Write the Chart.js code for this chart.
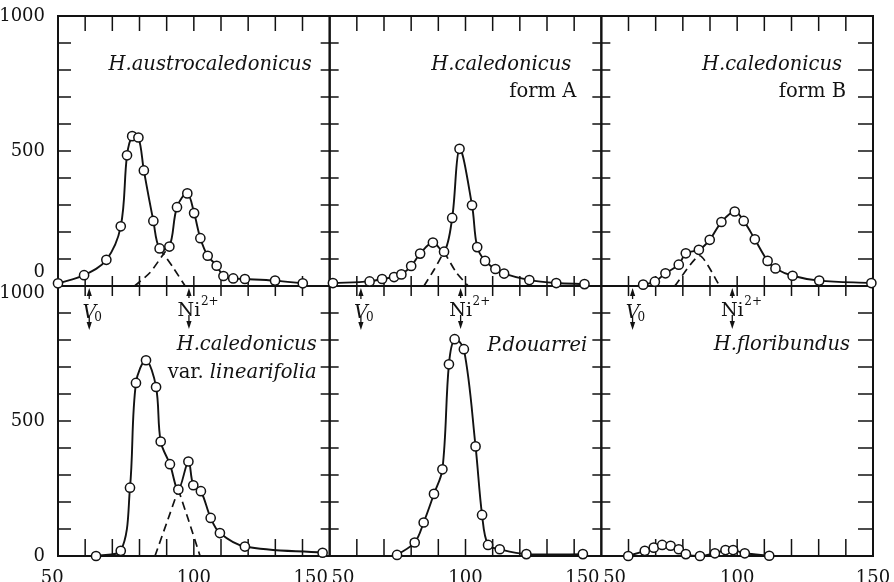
<!DOCTYPE html>
<html><head><meta charset="utf-8">
<script src="https://cdn.jsdelivr.net/npm/chart.js@4"></script>
<style>html,body{margin:0;padding:0;background:#fff}canvas{display:block}</style>
</head><body>
<canvas id="c" width="894" height="582"></canvas>
<script>
// ---------- data ----------
const xTickLabels = [50, 100, 150];
const yTickLabels = [0, 500, 1000];
const xMinorTicks = [60, 70, 80, 90, 100, 110, 120, 130, 140];
const yMinorTicks = [100, 200, 300, 400, 500, 600, 700, 800, 900];
const markerV0 = 61.5;
const markerNi = 98.2;

// H.austrocaledonicus
const austroX = [50, 59.6, 67.8, 73.1, 75.4, 77.3, 79.6, 81.6, 85.1, 87.4, 91, 93.8, 97.6, 100.1, 102.4, 105.1, 108.4, 110.9, 114.5, 118.8, 129.9, 140.1];
const austroY = [10, 40, 97, 221, 484, 555, 550, 428, 241, 139, 146, 292, 343, 270, 177, 112, 75, 37, 28, 26, 20, 10];
const austroDashAX = [87.4, 92.4, 96.8];
const austroDashAY = [139, 68, 0];
const austroDashBX = [78.2, 83.9, 88.8, 91];
const austroDashBY = [0, 50, 118, 146];

// H.caledonicus form A
const formAX = [51.2, 64.7, 69.3, 73.7, 76.4, 80, 83.3, 88, 92.1, 95.1, 97.8, 102.4, 104.3, 107.2, 111, 114.2, 123.5, 133.4, 143.8];
const formAY = [11, 17, 26, 33, 43, 74, 120, 161, 127, 252, 508, 299, 144, 93, 63, 46, 22, 11, 7];
const formADashAX = [84.7, 88.6, 92.1];
const formADashAY = [0, 63, 127];
const formADashBX = [92.1, 96.6, 101];
const formADashBY = [127, 50, 0];

// H.caledonicus form B
const formBX = [65.4, 69.7, 73.6, 78.5, 81.1, 85.9, 89.9, 94.2, 99.1, 102.4, 106.5, 111.2, 114.1, 120.4, 130.2, 149.4];
const formBY = [5, 16, 47, 79, 121, 134, 171, 237, 276, 241, 173, 93, 65, 38, 20, 11];
const formBDashX = [77, 86.2, 93.6];
const formBDashY = [0, 112, 0];

// H.caledonicus var. linearifolia
const linX = [64, 73.1, 76.5, 78.7, 82.4, 86.1, 87.8, 91.2, 94.3, 98, 99.8, 102.6, 106.2, 109.6, 118.8, 147.4];
const linY = [0, 19, 253, 641, 725, 626, 424, 340, 246, 350, 262, 240, 141, 85, 35, 12];
const linDashAX = [85.7, 90, 94.3];
const linDashAY = [0, 122, 246];
const linDashBX = [94.3, 98, 102.3];
const linDashBY = [246, 134, 0];

// P.douarrei
const douX = [74.8, 81.3, 84.6, 88.4, 91.5, 93.9, 96, 99.4, 103.7, 106.1, 108.3, 112.6, 122.4, 143.2];
const douY = [4, 50, 124, 230, 321, 710, 803, 766, 406, 152, 41, 25, 7, 7];

// H.floribundus
const floX = [59.9, 66, 69.3, 72.4, 75.5, 78.5, 81.1, 86.3, 91.8, 95.7, 98.5, 102.8, 111.8];
const floY = [0, 19, 31, 41, 38, 25, 7, 0, 10, 22, 22, 10, 1];

// ---------- panels ----------
const INK = '#121212';
const SERIF = '"DejaVu Serif", "Liberation Serif", serif';
const panels = [
  {xId: 'xa', yId: 'ya', col: 0, row: 0, title: [[['H.austrocaledonicus', true]]]},
  {xId: 'xb', yId: 'ya', col: 1, row: 0, title: [[['H.caledonicus', true]], [['form A', false]]]},
  {xId: 'xc', yId: 'ya', col: 2, row: 0, title: [[['H.caledonicus', true]], [['form B', false]]]},
  {xId: 'xa', yId: 'yb', col: 0, row: 1, title: [[['H.caledonicus', true]], [['var. ', false], ['linearifolia', true]]]},
  {xId: 'xb', yId: 'yb', col: 1, row: 1, title: [[['P.douarrei', true]]]},
  {xId: 'xc', yId: 'yb', col: 2, row: 1, title: [[['H.floribundus', true]]]}
];
// title layout: right inset per line, baseline offset per line
const titleLayout = [
  {r: [18], b: [54]},
  {r: [30, 25], b: [54, 81]},
  {r: [31, 27], b: [54, 81]},
  {r: [13, 13], b: [64, 92]},
  {r: [14], b: [65]},
  {r: [23], b: [64]}
];

function pts(xs, ys) { return xs.map((x, i) => ({x: x, y: ys[i]})); }
function solid(xs, ys, xId, yId) {
  return {data: pts(xs, ys), xAxisID: xId, yAxisID: yId,
    borderColor: INK, borderWidth: 1.9, tension: 0.35,
    pointRadius: 4.6, pointBackgroundColor: '#fff', pointBorderColor: INK, pointBorderWidth: 1.5,
    clip: false, order: 1};
}
function dashed(xs, ys, xId, yId) {
  return {data: pts(xs, ys), xAxisID: xId, yAxisID: yId,
    borderColor: INK, borderWidth: 1.7, borderDash: [8, 5], tension: 0.2,
    pointRadius: 0, clip: false, order: 2};
}

const datasets = [
  solid(austroX, austroY, 'xa', 'ya'),
  dashed(austroDashAX, austroDashAY, 'xa', 'ya'),
  dashed(austroDashBX, austroDashBY, 'xa', 'ya'),
  solid(formAX, formAY, 'xb', 'ya'),
  dashed(formADashAX, formADashAY, 'xb', 'ya'),
  dashed(formADashBX, formADashBY, 'xb', 'ya'),
  solid(formBX, formBY, 'xc', 'ya'),
  dashed(formBDashX, formBDashY, 'xc', 'ya'),
  solid(linX, linY, 'xa', 'yb'),
  dashed(linDashAX, linDashAY, 'xa', 'yb'),
  dashed(linDashBX, linDashBY, 'xa', 'yb'),
  solid(douX, douY, 'xb', 'yb'),
  solid(floX, floY, 'xc', 'yb')
];

const FS = '\u2007', TS = '\u2009';
const xLabelFmt = {
  xa: v => v === 50 ? '50' + FS : (v === 150 ? '150' + FS + FS + FS + TS : String(v)),
  xb: v => v === 50 ? TS + FS + FS + '50' : (v === 150 ? '150' + FS + FS + FS + TS : String(v)),
  xc: v => v === 50 ? TS + FS + FS + '50' : String(v)
};

function xScale(id) {
  return {
    type: 'linear', position: 'bottom', stack: 'cols', stackWeight: 1,
    min: 50, max: 150, offset: false,
    grid: {display: false}, border: {display: false},
    afterBuildTicks: s => { s.ticks = xTickLabels.map(v => ({value: v})); },
    afterFit: s => { s.height = 26; s.paddingLeft = 0; s.paddingRight = 0; },
    ticks: {autoSkip: false, maxRotation: 0, minRotation: 0, padding: 4, color: INK,
      font: {family: SERIF, size: 18}, callback: xLabelFmt[id]}
  };
}
function yScale(row) {
  return {
    type: 'linear', position: 'left', stack: 'rows', stackWeight: 1,
    min: 0, max: 1000,
    grid: {display: false}, border: {display: false},
    afterBuildTicks: s => { s.ticks = yTickLabels.map(v => ({value: v})); },
    afterFit: s => { s.width = 58; s.paddingTop = 0; s.paddingBottom = 0; },
    ticks: {autoSkip: false, padding: 5, color: INK,
      font: {family: SERIF, size: 18, lineHeight: row === 0 ? 1.55 : 0.8},
      callback: row === 0
        ? (v => v === 0 ? ['0', ''] : String(v))
        : (v => v === 1000 ? ['', '1000'] : String(v))}
  };
}

const framePlugin = {
  id: 'frameTicks',
  beforeDatasetsDraw(chart) {
    const ctx = chart.ctx;
    ctx.save();
    ctx.strokeStyle = INK;
    panels.forEach(p => {
      const xs = chart.scales[p.xId], ys = chart.scales[p.yId];
      const L = xs.getPixelForValue(50), R = xs.getPixelForValue(150);
      const T = ys.getPixelForValue(1000), B = ys.getPixelForValue(0);
      ctx.lineWidth = 2;
      ctx.strokeRect(L, T, R - L, B - T);
      ctx.lineWidth = 1.5;
      ctx.beginPath();
      xMinorTicks.forEach(v => {
        const px = xs.getPixelForValue(v);
        ctx.moveTo(px, T); ctx.lineTo(px, T + (p.row === 0 ? 15 : 10));
        ctx.moveTo(px, B); ctx.lineTo(px, B - (p.row === 1 ? 17 : 10));
      });
      yMinorTicks.forEach(v => {
        const py = ys.getPixelForValue(v);
        ctx.moveTo(L, py); ctx.lineTo(L + (p.col === 0 ? 13 : 9), py);
        ctx.moveTo(R, py); ctx.lineTo(R - (p.col === 2 ? 15 : 9), py);
      });
      ctx.stroke();
    });
    ctx.restore();
  },
  afterDatasetsDraw(chart) {
    const ctx = chart.ctx;
    ctx.save();
    ctx.fillStyle = INK; ctx.strokeStyle = INK;
    // titles
    panels.forEach((p, i) => {
      const xs = chart.scales[p.xId], ys = chart.scales[p.yId];
      const R = xs.getPixelForValue(150), T = ys.getPixelForValue(1000);
      const lay = titleLayout[i];
      ctx.textBaseline = 'alphabetic';
      p.title.forEach((segs, li) => {
        let x = R - lay.r[li];
        const y = T + lay.b[li];
        for (let k = segs.length - 1; k >= 0; k--) {
          const [txt, it] = segs[k];
          ctx.font = (it ? 'italic ' : '') + '19.5px ' + SERIF;
          ctx.textAlign = 'right';
          ctx.fillText(txt, x, y);
          x -= ctx.measureText(txt).width;
        }
      });
    });
    // V0 and Ni2+ markers on bottom row
    const yb = chart.scales.yb;
    const y0 = yb.getPixelForValue(1000);
    function arrow(x, yTail, yTip) {
      const dir = yTip > yTail ? 1 : -1;
      ctx.lineWidth = 1.3;
      ctx.beginPath(); ctx.moveTo(x, yTail); ctx.lineTo(x, yTip - dir * 5); ctx.stroke();
      ctx.beginPath();
      ctx.moveTo(x, yTip); ctx.lineTo(x - 2.6, yTip - dir * 8); ctx.lineTo(x + 2.6, yTip - dir * 8);
      ctx.closePath(); ctx.fill();
    }
    ['xa', 'xb', 'xc'].forEach(id => {
      const xs = chart.scales[id];
      const xv = xs.getPixelForValue(markerV0);
      arrow(xv, y0 + 13, y0 + 2);
      ctx.textAlign = 'center'; ctx.textBaseline = 'alphabetic';
      ctx.font = 'italic 19px ' + SERIF;
      ctx.fillText('V', xv, y0 + 32);
      ctx.font = '12px ' + SERIF; ctx.textAlign = 'left';
      ctx.fillText('0', xv + 5, y0 + 35);
      arrow(xv, y0 + 30, y0 + 44);
      const xn = xs.getPixelForValue(markerNi);
      arrow(xn, y0 + 12, y0 + 2);
      ctx.font = '19px ' + SERIF; ctx.textAlign = 'center';
      ctx.fillText('Ni', xn, y0 + 30);
      ctx.font = '12px ' + SERIF; ctx.textAlign = 'left';
      ctx.fillText('2+', xn + 12, y0 + 19);
      arrow(xn, y0 + 29, y0 + 43);
    });
    ctx.restore();
  }
};

new Chart(document.getElementById('c'), {
  type: 'line',
  data: {datasets: datasets},
  options: {
    responsive: false, animation: false,
    layout: {padding: {left: 0, top: 16, right: 21, bottom: 0}},
    plugins: {legend: {display: false}, tooltip: {enabled: false}, title: {display: false}},
    scales: {
      yb: yScale(1), ya: yScale(0),
      xa: xScale('xa'), xb: xScale('xb'), xc: xScale('xc')
    }
  },
  plugins: [framePlugin]
});
</script>
</body></html>
